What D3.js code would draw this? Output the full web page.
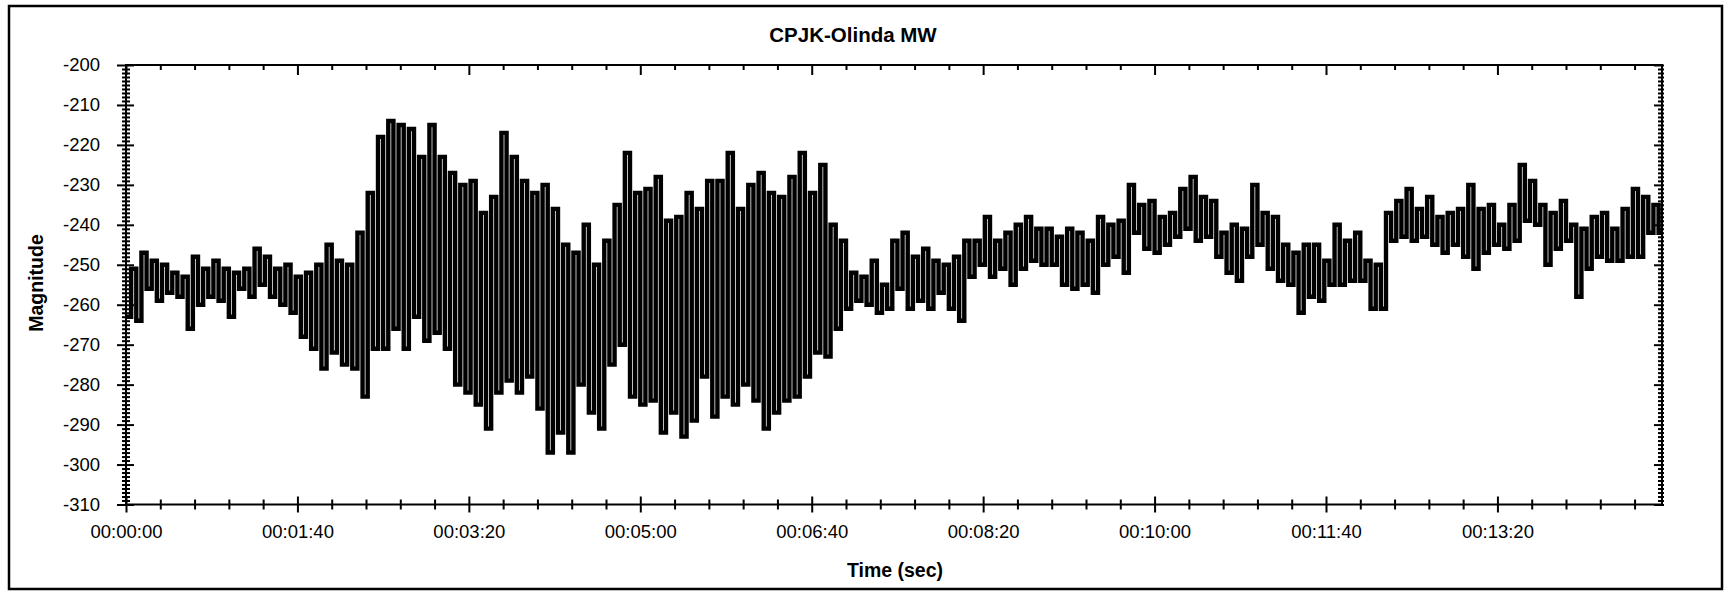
<!DOCTYPE html>
<html>
<head>
<meta charset="utf-8">
<script src="https://cdn.jsdelivr.net/npm/d3@7"></script>
<style>
  body { margin: 0; background: #fff; }
  svg { display: block; font-family: "Liberation Sans", Arial, sans-serif; }
</style>
</head>
<body>
<svg id="chart" width="1727" height="592"></svg>
<script>
// textos do gráfico
const chartTitle = "CPJK-Olinda MW";
const xLabel = "Time (sec)";
const yLabel = "Magnitude";

// uma amostra a cada 3 segundos
const stepSec = 3;

// amostras, por trecho de ~150 s
const seg0 = [-263,-251,-264,-247,-256,-249,-259,-250,-257,-252,
              -258,-253,-266,-248,-260,-251,-258,-249,-259,-251,
              -263,-252,-256,-251,-258,-246,-255,-248,-258,-251,
              -260,-250,-262,-253,-268,-252,-271,-250,-276,-245,
              -272,-249,-275,-250,-276,-242,-283,-232,-271,-218]; // 00:00:00 - 00:02:27
const seg1 = [-271,-214,-266,-215,-271,-216,-263,-223,-269,-215,
              -267,-223,-271,-227,-280,-230,-282,-229,-285,-237,
              -291,-233,-282,-217,-279,-223,-282,-229,-278,-232,
              -286,-230,-297,-236,-292,-245,-297,-247,-280,-240,
              -287,-250,-291,-244,-275,-235,-270,-222,-283,-232]; // 00:02:30 - 00:04:57
const seg2 = [-285,-231,-284,-228,-292,-239,-287,-238,-293,-232,
              -289,-236,-278,-229,-288,-229,-283,-222,-285,-236,
              -280,-230,-284,-227,-291,-232,-287,-233,-284,-228,
              -283,-222,-278,-232,-272,-225,-273,-240,-266,-244,
              -261,-252,-259,-253,-260,-249,-262,-255,-261,-244]; // 00:05:00 - 00:07:27
const seg3 = [-256,-242,-261,-248,-259,-246,-261,-249,-257,-250,
              -261,-248,-264,-244,-253,-244,-250,-238,-253,-244,
              -251,-242,-255,-240,-251,-238,-249,-241,-250,-241,
              -250,-243,-255,-241,-256,-242,-255,-244,-257,-238,
              -250,-240,-248,-239,-252,-230,-242,-235,-246,-234]; // 00:07:30 - 00:09:57
const seg4 = [-247,-238,-245,-237,-243,-231,-241,-228,-244,-233,
              -243,-234,-248,-242,-252,-240,-254,-241,-248,-230,
              -245,-237,-251,-238,-254,-245,-255,-247,-262,-245,
              -258,-245,-259,-249,-255,-240,-255,-244,-254,-242,
              -254,-249,-261,-250,-261,-237,-244,-234,-243,-231]; // 00:10:00 - 00:12:27
const seg5 = [-244,-236,-243,-233,-245,-238,-247,-237,-245,-236,
              -248,-230,-251,-236,-247,-235,-245,-240,-246,-235,
              -244,-225,-239,-229,-240,-235,-250,-237,-246,-234,
              -244,-240,-258,-241,-251,-238,-248,-237,-249,-241,
              -249,-236,-248,-231,-248,-233,-242,-235,-242,-231]; // 00:12:30 - 00:14:57

// eixos
const yMajor = [-310,-300,-290,-280,-270,-260,-250,-240,-230,-220,-210,-200];
const xMajor = [0, 100, 200, 300, 400, 500, 600, 700, 800];
const xMinorStep = 20;
const yMinorStep = 1;
const xMax = 896;

// monta a série (tempo, valor)
const values = [].concat(seg0, seg1, seg2, seg3, seg4, seg5);
const serie = values.map((v, i) => ({ t: i * stepSec, v: v }));

const svg = d3.select("#chart");
const margin = { left: 126, right: 1662, top: 65, bottom: 504.5 };

const x = d3.scaleLinear().domain([0, xMax]).range([margin.left, margin.right]);
const y = d3.scaleLinear().domain([-310, -200]).range([margin.bottom, margin.top]);

const fmtTime = d3.utcFormat("%H:%M:%S");
const xMinor = d3.range(0, xMax + 1, xMinorStep).filter(d => d % 100 !== 0);
const yMinor = d3.range(-310, -199, yMinorStep).filter(d => d % 10 !== 0);

// moldura externa
svg.append("rect")
    .attr("x", 9).attr("y", 6)
    .attr("width", 1713).attr("height", 583)
    .attr("fill", "none")
    .attr("stroke", "#000")
    .attr("stroke-width", 2.5);

// linha (degraus)
svg.append("clipPath").attr("id", "area")
  .append("rect")
    .attr("x", margin.left).attr("y", margin.top)
    .attr("width", margin.right - margin.left)
    .attr("height", margin.bottom - margin.top);

const line = d3.line()
    .x(d => x(d.t))
    .y(d => y(d.v))
    .curve(d3.curveStepAfter);

svg.append("path")
    .datum(serie)
    .attr("clip-path", "url(#area)")
    .attr("fill", "none")
    .attr("stroke", "#000")
    .style("stroke-width", "4.4px")
    .attr("stroke-linejoin", "miter")
    .attr("d", line);

// ticks sem texto (usado para ticks cruzando o eixo)
function ticks(axis, values, size, transform) {
    const g = svg.append("g")
        .attr("transform", transform)
        .call(axis.tickValues(values).tickSize(size).tickFormat(""));
    g.select(".domain").remove();
    g.selectAll("line").attr("stroke", "#000").attr("stroke-width", 2);
    return g;
}

// eixo Y esquerdo
ticks(d3.axisLeft(y), yMajor, 9, `translate(${margin.left},0)`);
ticks(d3.axisRight(y), yMajor, 8, `translate(${margin.left},0)`);
ticks(d3.axisLeft(y), yMinor, 4, `translate(${margin.left},0)`);
ticks(d3.axisRight(y), yMinor, 4, `translate(${margin.left},0)`);

// eixo Y direito
ticks(d3.axisLeft(y), yMajor, 8, `translate(${margin.right},0)`);
ticks(d3.axisRight(y), yMajor, 2, `translate(${margin.right},0)`);
ticks(d3.axisLeft(y), yMinor, 4, `translate(${margin.right},0)`);
ticks(d3.axisRight(y), yMinor, 2, `translate(${margin.right},0)`);

// eixo X superior (ticks para dentro)
ticks(d3.axisBottom(x), xMajor, 10, `translate(0,${margin.top})`);
ticks(d3.axisBottom(x), xMinor, 5, `translate(0,${margin.top})`);

// eixo X inferior (ticks cruzando)
ticks(d3.axisBottom(x), xMajor, 8, `translate(0,${margin.bottom})`);
ticks(d3.axisTop(x), xMajor, 8, `translate(0,${margin.bottom})`);
ticks(d3.axisBottom(x), xMinor, 5, `translate(0,${margin.bottom})`);
ticks(d3.axisTop(x), xMinor, 5, `translate(0,${margin.bottom})`);

// caixa do gráfico
svg.append("rect")
    .attr("x", margin.left).attr("y", margin.top)
    .attr("width", margin.right - margin.left)
    .attr("height", margin.bottom - margin.top)
    .attr("fill", "none")
    .attr("stroke", "#000")
    .attr("stroke-width", 2);

// rótulos dos ticks
const yAxis = svg.append("g")
    .attr("transform", `translate(${margin.left - 26},0)`)
    .call(d3.axisLeft(y).tickValues(yMajor).tickSize(0).tickPadding(0)
        .tickFormat(d => String(d)));
yAxis.select(".domain").remove();
yAxis.selectAll("text")
    .attr("font-size", 18.5)
    .attr("font-family", "'Liberation Sans', Arial, sans-serif")
    .attr("fill", "#000");

const xAxis = svg.append("g")
    .attr("transform", `translate(0,${margin.bottom + 20})`)
    .call(d3.axisBottom(x).tickValues(xMajor).tickSize(0).tickPadding(0)
        .tickFormat(d => fmtTime(new Date(d * 1000))));
xAxis.select(".domain").remove();
xAxis.selectAll("text")
    .attr("font-size", 18.5)
    .attr("font-family", "'Liberation Sans', Arial, sans-serif")
    .attr("fill", "#000");

// título e nomes dos eixos
svg.append("text")
    .attr("x", 853).attr("y", 42)
    .attr("text-anchor", "middle")
    .attr("font-size", 20.5)
    .attr("font-weight", "bold")
    .text(chartTitle);

svg.append("text")
    .attr("x", 895).attr("y", 577)
    .attr("text-anchor", "middle")
    .attr("font-size", 19.5)
    .attr("font-weight", "bold")
    .text(xLabel);

svg.append("text")
    .attr("transform", "translate(43,283) rotate(-90)")
    .attr("text-anchor", "middle")
    .attr("font-size", 19.5)
    .attr("font-weight", "bold")
    .text(yLabel);
</script>
</body>
</html>
